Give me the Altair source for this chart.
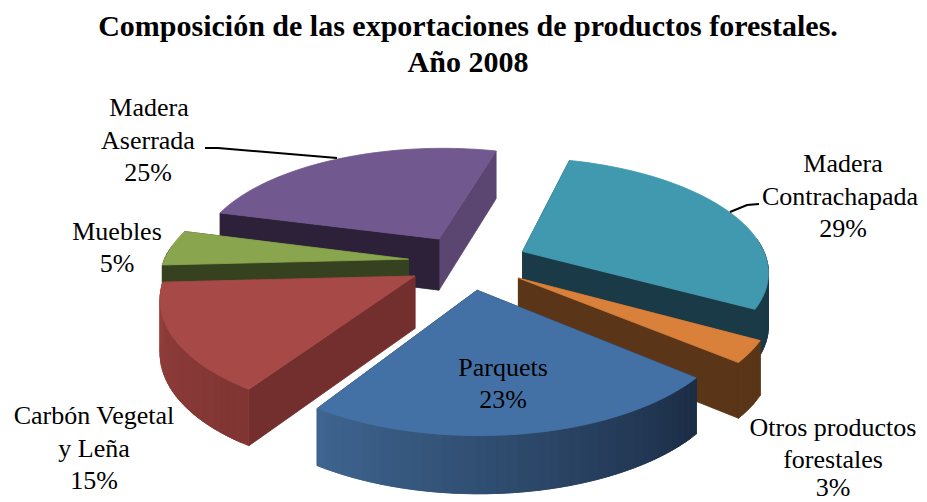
import math
import altair as alt

# chart values
categories = ["Madera Contrachapada", "Otros productos forestales", "Parquets",
              "Carbón Vegetal y Leña", "Muebles", "Madera Aserrada"]
shares = [29, 3, 23, 15, 5, 25]

# styling (top, radial wall, outer wall left/first, outer wall last)
top_colors = ["#4099AF", "#D9813B", "#4471A5", "#A74A47", "#89A54E", "#71588F"]
wall_colors = ["#1A3A47", "#5A3518", "#1B2C44", "#732F2E", "#36421F", "#2C2139"]
end_wall_colors = ["#1A3A47", "#5A3518", "#1B2C44", "#732F2E", "#36421F", "#5A4671"]
outer_from = ["#1A3A47", "#5A3518", "#1B2C44", "#7F3533", "#36421F", "#2C2139"]
outer_to = ["#1A3A47", "#5A3518", "#3E648F", "#943F3D", "#36421F", "#2C2139"]
paint_order = [5, 0, 4, 1, 3, 2]

ROT, EXPL = 15.0, 0.245
CX, CY, S, QS, K, D = 468.0, 262.0, 245.0, 112.0, 0.16, 52.0


def hex2rgb(h):
    return [int(h[i:i + 2], 16) for i in (1, 3, 5)]


def mix(a, b, t):
    ra, rb = hex2rgb(a), hex2rgb(b)
    return "#%02x%02x%02x" % tuple(round(x + (y - x) * t) for x, y in zip(ra, rb))


def project(x, y, z):
    w = 1 / (1 + K * y)
    return [CX + S * x * w, CY - QS * y * w + D * z * math.sqrt(w)]


starts, acc = [], ROT
for s in shares:
    starts.append(acc)
    acc += s * 3.6


features = []


def add(ring, color):
    features.append({"type": "Feature",
                     "properties": {"color": color, "order": len(features)},
                     "geometry": {"type": "Polygon", "coordinates": [ring + [ring[0]]]}})


for i in paint_order:
    a0 = starts[i]
    a1 = a0 + shares[i] * 3.6
    mid = math.radians((a0 + a1) / 2)
    ox, oy = EXPL * math.sin(mid), EXPL * math.cos(mid)
    steps = max(2, int((a1 - a0) / 2))
    step = (a1 - a0) / steps
    angles = [a0 + step * j for j in range(steps + 1)]

    def rim(a):
        r = math.radians(a)
        return ox + math.sin(r), oy + math.cos(r)

    # radial walls: the one that faces away first
    walls = []
    for a, normal, col in ((a0, a0 - 90, wall_colors[i]), (a1, a1 + 90, end_wall_colors[i])):
        walls.append((-math.cos(math.radians(normal)), a, col))
    walls.sort()
    for _, a, col in walls:
        px, py = rim(a)
        add([project(ox, oy, 0), project(px, py, 0), project(px, py, 1), project(ox, oy, 1)], col)
    # outer wall, near side only; each strip runs under the next one so no seams show
    for j in range(steps):
        b0, b1 = angles[j], angles[j + 1]
        if math.cos(math.radians((b0 + b1) / 2)) < 0.1:
            run = [b0, b1] + ([angles[j + 2]] if j + 2 <= steps else [])
            upper = [project(*rim(b), 0) for b in run]
            lower = [project(*rim(b), 1) for b in reversed(run)]
            t = min(1, max(0, (b1 - a0) / (a1 - a0)))
            add(upper + lower, mix(outer_from[i], outer_to[i], t))
    # top
    add([project(ox, oy, 0)] + [project(*rim(a), 0) for a in angles], top_colors[i])

slices = (
    alt.Chart(alt.Data(values=features, format=alt.DataFormat(type="json")))
    .mark_geoshape(strokeWidth=0.8, opacity=1, fillOpacity=1, strokeOpacity=1)
    .encode(fill=alt.Fill("properties.color:N", scale=None),
            stroke=alt.Stroke("properties.color:N", scale=None),
            order=alt.Order("properties.order:Q"))
    .project(type="identity", scale=1, translate=[-8, -8])
)

label_text = ["Madera", "Aserrada", "25%",
              "Madera", "Contrachapada", "29%",
              "Muebles", "5%",
              "Carbón Vegetal", "y Leña", "15%",
              "Parquets", "23%",
              "Otros productos", "forestales", "3%"]
label_x = [149, 148, 148, 843, 840, 843, 117, 117, 94, 94, 94, 503, 503, 833, 833, 833]
label_y = [108, 141, 173, 164, 197, 229, 232, 264, 416, 449, 481, 368, 400, 428, 460, 488]
labels_data = [{"t": t, "x": x, "y": y} for t, x, y in zip(label_text, label_x, label_y)]

xs = alt.Scale(domain=[8, 919])
ys = alt.Scale(domain=[502, 8])

labels = (
    alt.Chart(alt.Data(values=labels_data))
    .mark_text(font="Liberation Serif", fontSize=26, color="#000000")
    .encode(x=alt.X("x:Q", scale=xs, axis=None), y=alt.Y("y:Q", scale=ys, axis=None), text="t:N")
)

leader_id = [0, 0, 0, 1, 1, 1]
leader_x = [205, 218, 337, 730, 747, 759]
leader_y = [148, 148, 158, 212, 205, 204]
leaders = (
    alt.Chart(alt.Data(values=[{"g": g, "x": x, "y": y, "i": k} for k, (g, x, y) in
                               enumerate(zip(leader_id, leader_x, leader_y))]))
    .mark_line(color="#000000", strokeWidth=2)
    .encode(x=alt.X("x:Q", scale=xs, axis=None), y=alt.Y("y:Q", scale=ys, axis=None),
            detail="g:N", order="i:Q")
)

chart = (
    alt.layer(slices, leaders, labels)
    .properties(
        width=911, height=494, padding=0,
        autosize=alt.AutoSizeParams(type="none"),
        view=alt.ViewConfig(stroke=None),
        title=alt.TitleParams(
            text=["Composición de las exportaciones de productos forestales.", "Año 2008"],
            font="Liberation Serif", fontSize=30, fontWeight="bold", color="#000000",
            anchor="middle", lineHeight=36, offset=-100, baseline="bottom", dx=4.5),
    )
    .configure_view(stroke=None, strokeWidth=0)
    .configure(background="#ffffff")
)

chart.save("out.html", embed_options={"renderer": "svg", "actions": False})
